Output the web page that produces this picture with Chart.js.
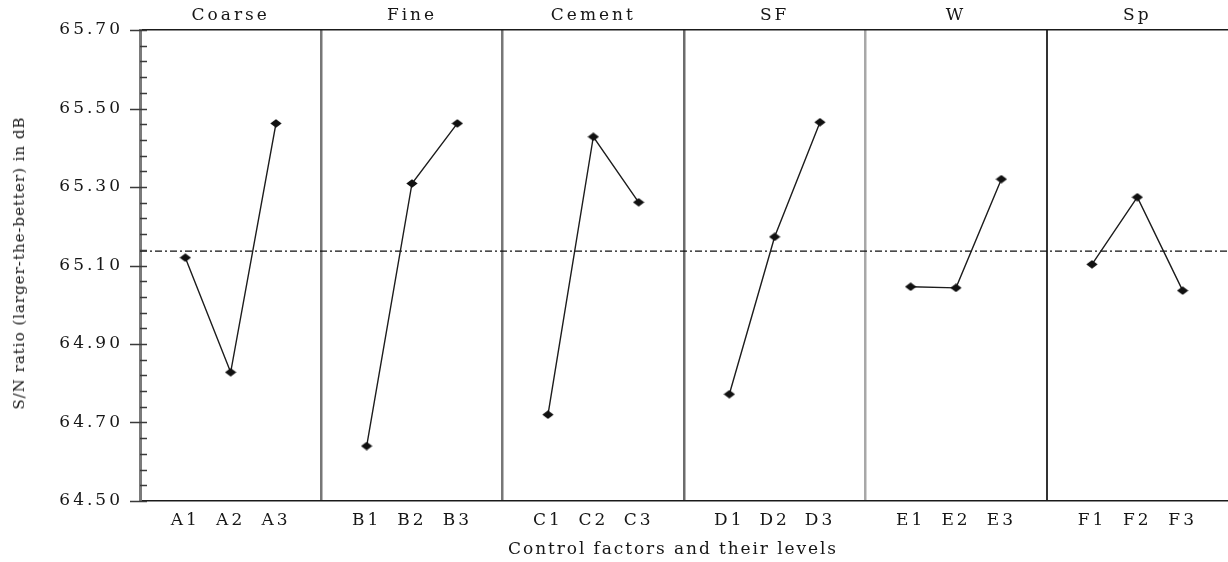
<!DOCTYPE html>
<html>
<head>
<meta charset="utf-8">
<title>Main effects plot for S/N ratios</title>
<script src="https://cdn.jsdelivr.net/npm/chart.js@4/dist/chart.umd.min.js"></script>
<style>
  html, body { margin: 0; padding: 0; background: #fff; }
  #wrap { position: relative; width: 1228px; height: 562px; overflow: hidden; background: #fff; }
  #chart { position: absolute; left: 0; top: 0; }
  .axis-title { position: absolute; white-space: nowrap; color: #161616; font-family: "DejaVu Serif", serif; }
  #ytitle { left: 19px; top: 263px; font-size: 15px; letter-spacing: 1px;
            transform: translate(-50%, -50%) rotate(-90deg); }
  #xtitle { left: 673px; top: 548px; font-size: 17px; letter-spacing: 1.9px;
            transform: translate(-50%, -50%); }
</style>
</head>
<body>
<div id="wrap">
  <canvas id="chart" width="1228" height="562"></canvas>
  <div id="ytitle" class="axis-title">S/N ratio (larger-the-better) in dB</div>
  <div id="xtitle" class="axis-title">Control factors and their levels</div>
</div>
<script>
// ---- data -------------------------------------------------------------
const factorNames = ['Coarse', 'Fine', 'Cement', 'SF', 'W', 'Sp'];

const coarseLevels = ['A1', 'A2', 'A3'];
const fineLevels   = ['B1', 'B2', 'B3'];
const cementLevels = ['C1', 'C2', 'C3'];
const sfLevels     = ['D1', 'D2', 'D3'];
const wLevels      = ['E1', 'E2', 'E3'];
const spLevels     = ['F1', 'F2', 'F3'];

// mean S/N ratio (dB) at each level
const coarseSN = [65.120, 64.828, 65.462];
const fineSN   = [64.640, 65.309, 65.462];
const cementSN = [64.720, 65.428, 65.261];
const sfSN     = [64.772, 65.173, 65.465];
const wSN      = [65.046, 65.043, 65.320];
const spSN     = [65.103, 65.274, 65.036];

// y axis range and tick spacing (dB)
const yMin = 64.50;
const yMax = 65.70;
const yMinorStep = 0.04;
const yLabelStep = 0.20;

// ---- derived ------------------------------------------------------------
const panelLevels = [coarseLevels, fineLevels, cementLevels, sfLevels, wLevels, spLevels];
const panelSN = [coarseSN, fineSN, cementSN, sfSN, wSN, spSN];
const allSN = panelSN.flat();
const grandMean = allSN.reduce((a, b) => a + b, 0) / allSN.length;

// each factor panel holds its three levels plus one spacer slot
const SLOTS = 4;
const xEnd = factorNames.length * SLOTS;
const slotOf = (p, j) => p * SLOTS + j + 1;

function levelLabelAt(v) {
  const p = Math.floor(v / SLOTS);
  const j = v - p * SLOTS - 1;
  if (j < 0 || p >= factorNames.length) return '';
  return panelLevels[p][j];
}

function isLabelTick(v) {
  const k = Math.round((v - yMin) * 100);
  return k % Math.round(yLabelStep * 100) === 0;
}

// ---- style --------------------------------------------------------------
const FONT = 'DejaVu Serif';
const TEXT = '#161616';

// panel separators (between factor panels)
const separatorColor = ['#777777', '#777777', '#6c6c6c', '#a8a8a8', '#333333'];
const separatorWidth = [2.5, 2.5, 2.5, 2.5, 2];

// keep the plot area flush with the axes: no extra room for edge labels
function noEdgePadding(s) {
  s.paddingLeft = 0; s.paddingRight = 0; s.paddingTop = 0; s.paddingBottom = 0;
}

// diamond marker, a little wider than tall
function makeDiamond() {
  const c = document.createElement('canvas');
  c.width = 12; c.height = 9;
  const g = c.getContext('2d');
  g.fillStyle = '#111';
  g.beginPath();
  g.moveTo(6, 0.3); g.lineTo(11.7, 4.5); g.lineTo(6, 8.7); g.lineTo(0.3, 4.5);
  g.closePath();
  g.fill();
  return c;
}
const diamond = makeDiamond();

// spaced lettering and the y-axis tick marks (major ticks cross the axis)
const axisMarks = {
  id: 'axisMarks',
  beforeDraw(chart) {
    chart.ctx.letterSpacing = '3px';
  },
  afterDraw(chart) {
    const { ctx, chartArea: a } = chart;
    const y = chart.scales.y;
    ctx.save();
    ctx.strokeStyle = '#3a3a3a';
    ctx.lineWidth = 1.6;
    ctx.beginPath();
    y.ticks.forEach(t => {
      const py = Math.round(y.getPixelForValue(t.value)) + 0.5;
      ctx.moveTo(a.left - (isLabelTick(t.value) ? 10 : 0), py);
      ctx.lineTo(a.left + 7, py);
    });
    ctx.stroke();
    ctx.restore();
  }
};

const seriesSets = panelSN.map((sn, p) => ({
  label: factorNames[p],
  data: sn.map((v, j) => ({ x: slotOf(p, j), y: v })),
  borderColor: '#1c1c1c',
  borderWidth: 1.4,
  pointStyle: diamond,
  pointRadius: 5,
  pointHoverRadius: 5,
  tension: 0,
  order: 0
}));

const meanSet = {
  label: 'Mean',
  data: [{ x: 0, y: grandMean }, { x: xEnd, y: grandMean }],
  borderColor: '#111',
  borderWidth: 1.3,
  borderDash: [7, 3, 2, 3],
  pointRadius: 0,
  order: 1
};

new Chart(document.getElementById('chart'), {
  type: 'line',
  data: { datasets: [...seriesSets, meanSet] },
  options: {
    responsive: false,
    animation: false,
    devicePixelRatio: 1,
    events: [],
    layout: { autoPadding: false, padding: 0 },
    plugins: { legend: { display: false }, tooltip: { enabled: false } },
    scales: {
      x: {
        type: 'linear',
        position: 'bottom',
        min: 0,
        max: xEnd,
        afterBuildTicks: s => {
          s.ticks = Array.from({ length: xEnd + 1 }, (_, v) => ({ value: v }));
        },
        afterFit: s => { s.height = 61; noEdgePadding(s); },
        grid: {
          drawTicks: false,
          color: c => {
            const v = c.tick ? c.tick.value : -1;
            const k = v / SLOTS - 1;
            return (v % SLOTS === 0 && k >= 0 && k < separatorColor.length) ? separatorColor[k] : 'rgba(0,0,0,0)';
          },
          lineWidth: c => {
            const v = c.tick ? c.tick.value : -1;
            const k = v / SLOTS - 1;
            return (v % SLOTS === 0 && k >= 0 && k < separatorWidth.length) ? separatorWidth[k] : 0;
          }
        },
        border: { display: true, color: '#1a1a1a', width: 1.6 },
        ticks: {
          autoSkip: false,
          maxRotation: 0,
          padding: 9,
          color: TEXT,
          font: { family: FONT, size: 17 },
          callback: v => levelLabelAt(v)
        }
      },
      xTop: {
        type: 'linear',
        position: 'top',
        min: 0,
        max: xEnd,
        afterBuildTicks: s => {
          s.ticks = factorNames.map((n, p) => ({ value: slotOf(p, 1) }));
        },
        afterFit: s => { s.height = 30; noEdgePadding(s); },
        grid: { display: false, drawTicks: false },
        border: { display: true, color: '#1a1a1a', width: 1.6 },
        ticks: {
          autoSkip: false,
          maxRotation: 0,
          padding: 4,
          color: TEXT,
          font: { family: FONT, size: 17 },
          callback: (v, i) => factorNames[i]
        }
      },
      y: {
        min: yMin,
        max: yMax,
        afterFit: s => { s.width = 140; noEdgePadding(s); },
        grid: { display: false, drawTicks: false },
        border: { display: true, color: '#7a7a7a', width: 3 },
        ticks: {
          stepSize: yMinorStep,
          autoSkip: false,
          padding: 17,
          color: TEXT,
          font: { family: FONT, size: 17 },
          callback: v => (isLabelTick(v) ? v.toFixed(2) : '')
        }
      }
    }
  },
  plugins: [axisMarks]
});
</script>
</body>
</html>
